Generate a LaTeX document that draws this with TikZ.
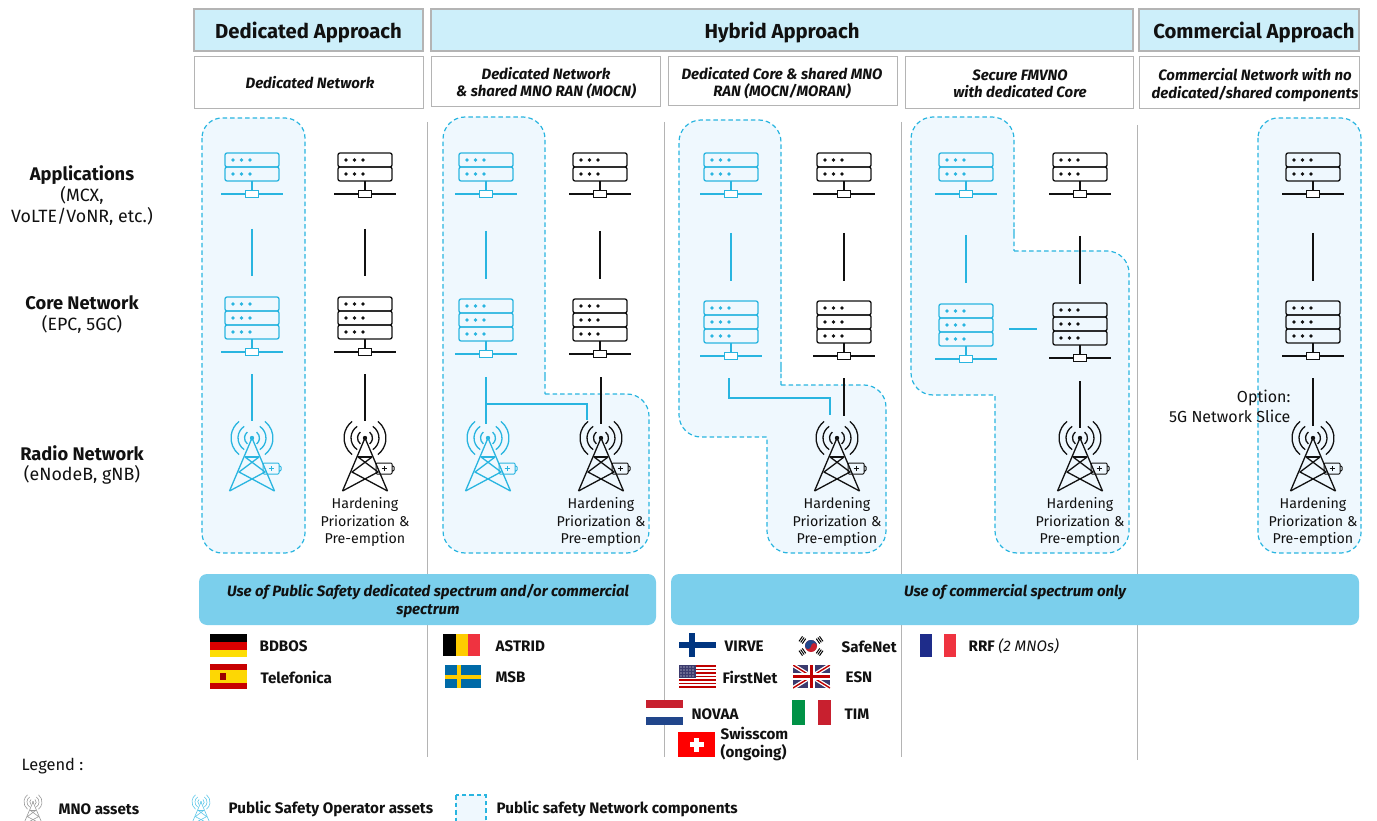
\documentclass[tikz,border=0pt]{standalone}
\usepackage{fontspec}
\usepackage{xcolor}
\setmainfont{Fira Sans}
\usetikzlibrary{
    calc,
    positioning
}
\definecolor{psblue}{HTML}{29B5E0}
\definecolor{psarea}{HTML}{EFF8FE}
\definecolor{headblue}{HTML}{CDEFFA}
\definecolor{bandblue}{HTML}{7BCFEC}
\definecolor{edgegray}{HTML}{B4B4B4}
\definecolor{inkblack}{HTML}{111111}
\definecolor{flagnavy}{HTML}{003580}
\definecolor{flagindigo}{HTML}{1E2C8A}
\definecolor{flagred}{HTML}{C8202F}
\definecolor{flagsteel}{HTML}{21468B}
\definecolor{flagsky}{HTML}{006AA7}
\definecolor{flaggold}{HTML}{FECC00}
\definecolor{flagrose}{HTML}{EF3340}
\definecolor{flagoak}{HTML}{3C3B6E}
\definecolor{flaggreen}{HTML}{009246}
\tikzset{
    headbox/.style={draw=edgegray, line width=1.6pt, fill=headblue, inner sep=0pt, text height=20pt, text depth=2pt, font=\fontsize{20.3}{24}\selectfont\bfseries},
    subbox/.style={draw=edgegray, line width=0.9pt, fill=white, inner sep=0pt},
    subtext/.style={align=center, inner sep=0pt, font=\fontsize{15}{17.5}\selectfont\bfseries\itshape},
    area/.style={draw=psblue, fill=psarea, line width=1.2pt, dash pattern=on 4.5pt off 3pt},
    sepline/.style={draw=edgegray, line width=1pt},
    band/.style={fill=bandblue, rounded corners=8pt, inner sep=0pt},
    sidetitle/.style={align=center, font=\fontsize{18.3}{21}\selectfont\bfseries},
    sidetext/.style={align=center, font=\fontsize{17.8}{20.5}\selectfont},
    hardtext/.style={align=center, font=\fontsize{14.2}{17.5}\selectfont},
    flagtext/.style={anchor=west, inner sep=0pt, align=left, font=\fontsize{15.2}{18}\selectfont\bfseries},
    server/.pic={
        \foreach \r in {1,...,#1} {
            \draw[rounded corners=2pt] (-27, {(\r-1)*14}) rectangle (27, {\r*14});
            \foreach \d in {-19, -10.5, -2} {
                \fill (\d, {(\r-0.5)*14}) circle (1.8);
            }
        }
        \draw (0, {#1*14}) -- (0, {#1*14+13});
        \draw (-31, {#1*14+13}) -- (31, {#1*14+13});
        \draw[fill=white] (-6.5, {#1*14+9.5}) rectangle (6.5, {#1*14+16.5});
    },
    tower/.pic={
        \fill (0, 0) circle (2.2);
        \foreach \rad/\ang in {7.5/52, 14/56, 21/52} {
            \draw (-\ang:\rad) arc[start angle=-\ang, end angle=\ang, radius=\rad];
            \draw (180-\ang:\rad) arc[start angle=180-\ang, end angle=180+\ang, radius=\rad];
        }
        \draw (-22.5, 53) -- (0, 0) -- (22.5, 53);
        \draw (-7, 19) -- (7, 19);
        \draw (-7, 19) -- (13, 34) -- (-22.5, 53);
        \draw (7, 19) -- (-13, 34) -- (22.5, 53);
    },
    battery/.pic={
        \draw[line width=1pt, rounded corners=1pt] (0, 0) rectangle (16, 11) (16, 3) -- (18, 3) -- (18, 8) -- (16, 8);
        \draw[line width=0.8pt] (5.5, 5.5) -- (10.5, 5.5) (8, 3) -- (8, 8);
    }
}
\begin{document}
\begin{tikzpicture}[x=1pt, y=-1pt, line width=1.3pt, color=inkblack]
    \useasboundingbox (0, 0) rectangle (1377, 821);
    \node[headbox, minimum width=229pt, minimum height=42pt] (headdedicated) at (308.5, 30) {Dedicated Approach};
    \node[headbox, minimum width=702pt, minimum height=42pt] (headhybrid) at (782, 30) {Hybrid Approach};
    \node[headbox, minimum width=220pt, minimum height=42pt] (headcommercial) at (1249, 30) {\hspace*{10pt}Commercial Approach};
    \node[subbox, minimum width=229pt, minimum height=52pt] (subdedicated) at (308.5, 82) {};
    \node[subbox, minimum width=229pt, minimum height=50pt] (submocn) at (545.5, 81) {};
    \node[subbox, minimum width=229pt, minimum height=49pt] (submoran) at (782.5, 80.5) {};
    \node[subbox, minimum width=228pt, minimum height=52pt] (subfmvno) at (1019, 82) {};
    \node[subbox, minimum width=220pt, minimum height=52pt] (subcommercial) at (1249, 82) {};
    \node[subtext] (textdedicated) at (310, 82.5) {Dedicated Network};
    \node[subtext] (textmocn) at (546, 83) {Dedicated Network\\\& shared MNO RAN (MOCN)};
    \node[subtext] (textmoran) at (782, 83) {Dedicated Core \& shared MNO\\RAN (MOCN/MORAN)};
    \node[subtext] (textfmvno) at (1020, 84) {Secure FMVNO\\with dedicated Core};
    \node[subtext] (textcommercial) at (1255, 85) {Commercial Network with no\\dedicated/shared components};

    \draw[area, rounded corners=20pt] (202, 118) rectangle (305, 553);
    \draw[area] (545, 394) [rounded corners=22pt] -- (649, 394) -- (649, 553) -- (443, 553) -- (443, 117) -- (545, 117) -- (545, 394) [sharp corners] -- cycle;
    \draw[area] (781, 385) [rounded corners=22pt] -- (886, 385) -- (886, 553) -- (767, 553) -- (767, 490) [sharp corners] -- (767, 437) -- (730, 437) [rounded corners=22pt] -- (679, 437) -- (679, 120) -- (781, 120) -- (781, 385) [sharp corners] -- cycle;
    \draw[area] (1014, 251) [rounded corners=22pt] -- (1129, 251) -- (1129, 553) -- (995, 553) -- (995, 470) [sharp corners] -- (995, 395) -- (950, 395) [rounded corners=22pt] -- (911, 395) -- (911, 117) -- (1014, 117) -- (1014, 251) [sharp corners] -- cycle;
    \draw[area, rounded corners=20pt] (1258, 118) rectangle (1361, 553);

    \draw[sepline] (427, 122) -- (427, 757);
    \draw[sepline] (664, 122) -- (664, 757);
    \draw[sepline] (901, 122) -- (901, 757);
    \draw[sepline] (1137, 125) -- (1137, 760);

    \node[sidetitle] (apptitle) at (82, 175) {Applications};
    \node[sidetext] (apptext) at (82, 206) {(MCX,\\VoLTE/VoNR, etc.)};
    \node[sidetitle] (coretitle) at (82, 302.5) {Core Network};
    \node[sidetext] (coretext) at (82, 324) {(EPC, 5GC)};
    \node[sidetitle] (radiotitle) at (82, 453) {Radio Network};
    \node[sidetext] (radiotext) at (82, 475) {(eNodeB, gNB)};

    \foreach \cname/\cx/\ccol/\ctop/\la/\lb in {
        A/252/psblue/297/229/276,
        B/365/inkblack/297/229/276,
        C/486/psblue/299/231/279,
        D/600/inkblack/299/231/279,
        E/731/psblue/301/233/281,
        F/844/inkblack/301/233/281,
        G/966/psblue/304/235/283,
        H/1080/inkblack/303/236/284,
        I/1313/inkblack/301/233/281
    } {
        \pic[color=\ccol] (app\cname) at (\cx, 153) {server=2};
        \pic[color=\ccol] (core\cname) at (\cx, \ctop) {server=3};
        \coordinate (up\cname) at (\cx, \la);
        \coordinate (dn\cname) at (\cx, \lb);
        \draw[color=\ccol] (up\cname) -- (dn\cname);
    }
    \foreach \cname/\cx/\tx/\ccol/\la/\lb in {
        A/252/252/psblue/374/421,
        B/365/365/inkblack/374/421,
        D/601/601/inkblack/377/424,
        F/844/837/inkblack/378/416,
        H/1080/1080/inkblack/381/428,
        I/1313/1313/inkblack/378/426
    } {
        \coordinate (cd\cname) at (\cx, \la);
        \coordinate (rd\cname) at (\cx, \lb);
        \draw[color=\ccol] (cd\cname) -- (rd\cname);
        \pic[color=\ccol] (tower\cname) at (\tx, 438) {tower};
        \pic[color=\ccol] (bat\cname) at (\tx+11, 463) {battery};
    }
    \pic[color=psblue] (towerC) at (488, 438) {tower};
    \pic[color=psblue] (batC) at (499, 463) {battery};

    \coordinate (cdC) at (486, 377);
    \coordinate (rdC) at (486, 424);
    \coordinate (teeC) at (486, 404);
    \coordinate (rdCD) at (587, 420);
    \draw[psblue] (cdC) -- (rdC);
    \draw[psblue] (teeC) -| (rdCD);
    \coordinate (cdE) at (729, 378);
    \coordinate (bendE) at (780, 398);
    \coordinate (rdE) at (830, 415);
    \draw[psblue] (cdE) |- (bendE) -| (rdE);
    \coordinate (coreGH) at (1009, 329);
    \coordinate (coreHG) at (1037, 329);
    \draw[psblue] (coreGH) -- (coreHG);

    \node[hardtext] (hardB) at (365, 522) {Hardening\\Priorization \&\\Pre-emption};
    \node[hardtext] (hardD) at (601, 522) {Hardening\\Priorization \&\\Pre-emption};
    \node[hardtext] (hardF) at (837, 522) {Hardening\\Priorization \&\\Pre-emption};
    \node[hardtext] (hardH) at (1080, 522) {Hardening\\Priorization \&\\Pre-emption};
    \node[hardtext] (hardI) at (1313, 522) {Hardening\\Priorization \&\\Pre-emption};
    \node[anchor=east, align=right, inner sep=0pt, font=\fontsize{16}{20}\selectfont] (optionI) at (1291, 406) {Option:\\5G Network Slice};

    \node[band, minimum width=457pt, minimum height=51pt] (bandpublic) at (427.5, 599.5) {};
    \node[band, minimum width=688pt, minimum height=51pt] (bandcommercial) at (1015, 599.5) {};
    \node[subtext] (textpublic) at (428, 601) {Use of Public Safety dedicated spectrum and/or commercial\\spectrum};
    \node[subtext] (textband) at (1015, 592) {Use of commercial spectrum only};

    \begin{scope}[shift={(210, 634)}]
        \fill[black] (0, 0) rectangle (37, 8);
        \fill[red!85!black] (0, 8) rectangle (37, 15.5);
        \fill[yellow!80!orange] (0, 15.5) rectangle (37, 23);
    \end{scope}
    \begin{scope}[shift={(210, 664)}]
        \fill[red!78!black] (0, 0) rectangle (37, 25);
        \fill[yellow!75!orange] (0, 6) rectangle (37, 19);
        \fill[red!60!black] (10, 9) rectangle (16, 16);
    \end{scope}
    \begin{scope}[shift={(443, 634)}]
        \fill[black] (0, 0) rectangle (12.5, 22);
        \fill[flaggold] (12.5, 0) rectangle (25, 22);
        \fill[flagrose] (25, 0) rectangle (37, 22);
    \end{scope}
    \begin{scope}[shift={(445, 665)}]
        \fill[flagsky] (0, 0) rectangle (36, 23);
        \fill[flaggold] (11.5, 0) rectangle (15.5, 23);
        \fill[flaggold] (0, 9.5) rectangle (36, 13.5);
    \end{scope}
    \begin{scope}[shift={(679, 633)}]
        \fill[white] (0, 0) rectangle (37, 24);
        \fill[flagnavy] (10, 0) rectangle (16, 24);
        \fill[flagnavy] (0, 9) rectangle (37, 15);
    \end{scope}
    \begin{scope}[shift={(679, 665)}]
        \foreach \s in {0, 2, 4, 6, 8, 10, 12} {
            \fill[red!75!black] (0, {\s*23/13}) rectangle (37, {(\s+1)*23/13});
        }
        \fill[flagoak] (0, 0) rectangle (17, 12.5);
        \foreach \sx in {2, 5, 8, 11, 14} {
            \foreach \sy in {2, 5, 8, 11} {
                \fill[white] (\sx, \sy) circle (0.6);
            }
        }
    \end{scope}
    \begin{scope}[shift={(646, 700)}]
        \fill[flagred] (0, 0) rectangle (37, 8.3);
        \fill[white] (0, 8.3) rectangle (37, 16.7);
        \fill[flagsteel] (0, 16.7) rectangle (37, 25);
    \end{scope}
    \begin{scope}[shift={(678, 732)}]
        \fill[red] (0, 0) rectangle (37, 25);
        \fill[white] (16, 5.5) rectangle (21, 19.5);
        \fill[white] (11.5, 10) rectangle (25.5, 15);
    \end{scope}
    \begin{scope}[shift={(811, 646)}]
        \fill[flagred] (0, 0) circle (6);
        \fill[flagsteel] (-6, 0) arc[start angle=180, end angle=360, radius=6] arc[start angle=0, end angle=-180, radius=3] arc[start angle=0, end angle=180, radius=3] -- cycle;
        \foreach \a in {35, 145, 215, 325} {
            \begin{scope}[rotate=\a]
                \foreach \t in {8.5, 10.5, 12.5} {
                    \draw[black, line width=1pt] (\t, -3) -- (\t, 3);
                }
            \end{scope}
        }
    \end{scope}
    \begin{scope}[shift={(793, 665)}]
        \begin{scope}
            \clip (0, 0) rectangle (37, 23);
            \fill[flagoak] (0, 0) rectangle (37, 23);
            \draw[white, line width=4pt] (0, 0) -- (37, 23) (37, 0) -- (0, 23);
            \draw[red!75!black, line width=1.4pt] (0, 0) -- (37, 23) (37, 0) -- (0, 23);
            \draw[white, line width=6.5pt] (18.5, 0) -- (18.5, 23) (0, 11.5) -- (37, 11.5);
            \draw[red!75!black, line width=3.8pt] (18.5, 0) -- (18.5, 23) (0, 11.5) -- (37, 11.5);
        \end{scope}
    \end{scope}
    \begin{scope}[shift={(792, 700)}]
        \fill[flaggreen] (0, 0) rectangle (13, 25);
        \fill[white] (13, 0) rectangle (26, 25);
        \fill[flagred] (26, 0) rectangle (39, 25);
    \end{scope}
    \begin{scope}[shift={(920, 634)}]
        \fill[flagindigo] (0, 0) rectangle (12, 23);
        \fill[white] (12, 0) rectangle (24, 23);
        \fill[flagrose] (24, 0) rectangle (36, 23);
    \end{scope}

    \node[flagtext] (bdbos) at (259, 646.5) {BDBOS};
    \node[flagtext] (telefonica) at (260, 677.5) {Telefonica};
    \node[flagtext] (astrid) at (495, 646.5) {ASTRID};
    \node[flagtext] (msb) at (495, 677.5) {MSB};
    \node[flagtext] (virve) at (724, 646.5) {VIRVE};
    \node[flagtext] (firstnet) at (722, 677.5) {FirstNet};
    \node[flagtext] (novaa) at (691, 714.5) {NOVAA};
    \node[flagtext] (swisscom) at (720, 744.5) {Swisscom\\(ongoing)};
    \node[flagtext] (safenet) at (841, 646.5) {SafeNet};
    \node[flagtext] (esn) at (845, 677.5) {ESN};
    \node[flagtext] (tim) at (844, 714.5) {TIM};
    \node[flagtext] (rrf) at (968, 646.5) {RRF \textmd{\itshape (2 MNOs)}};

    \node[anchor=west, inner sep=0pt, font=\fontsize{16.4}{19}\selectfont] (legend) at (21, 766) {Legend :};
    \pic[color=gray!80, scale=0.43, line width=0.6pt] (legmno) at (33, 802) {tower};
    \node[flagtext] (legmnotext) at (58, 809.5) {MNO assets};
    \pic[color=psblue!75, scale=0.43, line width=0.6pt] (legps) at (201, 802) {tower};
    \node[flagtext] (legpstext) at (228, 809.5) {Public Safety Operator assets};
    \draw[area] (456, 795) rectangle (486, 830);
    \node[flagtext] (legareatext) at (496, 809.5) {Public safety Network components};
\end{tikzpicture}
\end{document}
